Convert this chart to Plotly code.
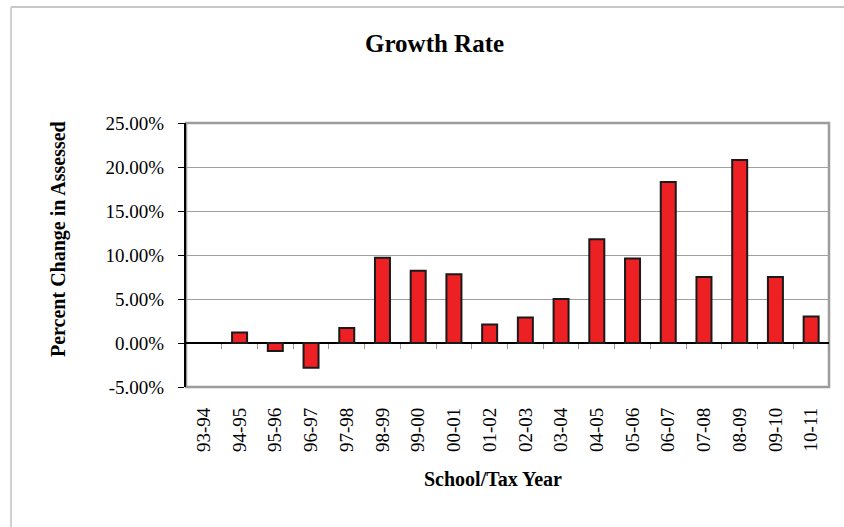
import plotly.graph_objects as go

# School/tax years and the year-over-year change in assessed value (%)
years = ["93-94", "94-95", "95-96", "96-97", "97-98", "98-99", "99-00", "00-01",
         "01-02", "02-03", "03-04", "04-05", "05-06", "06-07", "07-08", "08-09",
         "09-10", "10-11"]
growth_pct = [None, 1.2, -0.9, -2.8, 1.7, 9.7, 8.2, 7.8,
              2.1, 2.9, 5.0, 11.8, 9.6, 18.3, 7.5, 20.8,
              7.5, 3.0]

ytick_vals = [-5, 0, 5, 10, 15, 20, 25]
ytick_labels = ["-5.00%", "0.00%", "5.00%", "10.00%", "15.00%", "20.00%", "25.00%"]

SERIF = "Liberation Serif, Times New Roman, serif"

fig = go.Figure()
fig.add_trace(go.Bar(
    x=years, y=growth_pct,
    marker=dict(color="#ED2024", line=dict(color="#1a1a1a", width=2)),
    xaxis="x", yaxis="y",
))
# invisible companion trace so the tick marks along the zero line share categories
fig.add_trace(go.Scatter(x=years, y=[0] * len(years), xaxis="x2", yaxis="y",
                         mode="markers", marker=dict(opacity=0, size=1),
                         showlegend=False, hoverinfo="skip"))

fig.update_layout(
    width=844, height=527,
    margin=dict(l=186, r=15, t=123, b=140),
    paper_bgcolor="white", plot_bgcolor="white",
    showlegend=False,
    bargap=0.58,
    font=dict(family=SERIF, color="black", size=19),
    xaxis=dict(
        type="category", categoryorder="array", categoryarray=years,
        range=[-0.5, len(years) - 0.5],
        tickangle=-90, ticks="", showline=False, showgrid=False,
        ticklabelstandoff=16,
        tickfont=dict(family=SERIF, size=19, color="black"),
    ),
    xaxis2=dict(
        type="category", categoryorder="array", categoryarray=years,
        range=[-0.5, len(years) - 0.5],
        overlaying="x", anchor="free", position=5 / 30,
        showticklabels=False, showgrid=False, showline=False,
        ticks="outside", tickson="boundaries", ticklen=5,
        tickcolor="#9a9a9a", tickwidth=1,
    ),
    yaxis=dict(
        range=[-5, 25],
        tickvals=ytick_vals, ticktext=ytick_labels,
        ticks="outside", ticklen=6, tickcolor="black", tickwidth=1,
        ticklabelstandoff=10,
        showgrid=True, gridcolor="#a0a0a0", gridwidth=1,
        zeroline=True, zerolinecolor="black", zerolinewidth=1.5,
        showline=True, linecolor="black", linewidth=2,
        tickfont=dict(family=SERIF, size=19, color="black"),
    ),
    shapes=[
        # plot frame (top, right, bottom)
        dict(type="rect", xref="paper", yref="paper", x0=0, x1=1, y0=0, y1=1,
             line=dict(color="#9c9c9c", width=2.5), layer="below"),
        # outer chart frame edges
        dict(type="line", xref="paper", yref="paper",
             x0=(11 - 186) / 643, x1=(844 - 186) / 643,
             y0=(387 - 7) / 264, y1=(387 - 7) / 264,
             line=dict(color="#b4b4b4", width=1.5)),
        dict(type="line", xref="paper", yref="paper",
             x0=(11 - 186) / 643, x1=(11 - 186) / 643,
             y0=(387 - 7) / 264, y1=(387 - 530) / 264,
             line=dict(color="#d0d0d0", width=2)),
    ],
    annotations=[
        dict(text="<b>Growth Rate</b>", xref="paper", yref="paper",
             x=(434 - 186) / 643, y=(387 - 44) / 264,
             xanchor="center", yanchor="middle", showarrow=False,
             font=dict(family=SERIF, size=25, color="black")),
        dict(text="<b>School/Tax Year</b>", xref="paper", yref="paper",
             x=(493 - 186) / 643, y=(387 - 479) / 264,
             xanchor="center", yanchor="middle", showarrow=False,
             font=dict(family=SERIF, size=20, color="black")),
        dict(text="<b>Percent Change in Assessed</b>", xref="paper", yref="paper",
             x=(58 - 186) / 643, y=(387 - 239) / 264, textangle=-90,
             xanchor="center", yanchor="middle", showarrow=False,
             font=dict(family=SERIF, size=20, color="black")),
    ],
)

fig.write_html("out.html")
